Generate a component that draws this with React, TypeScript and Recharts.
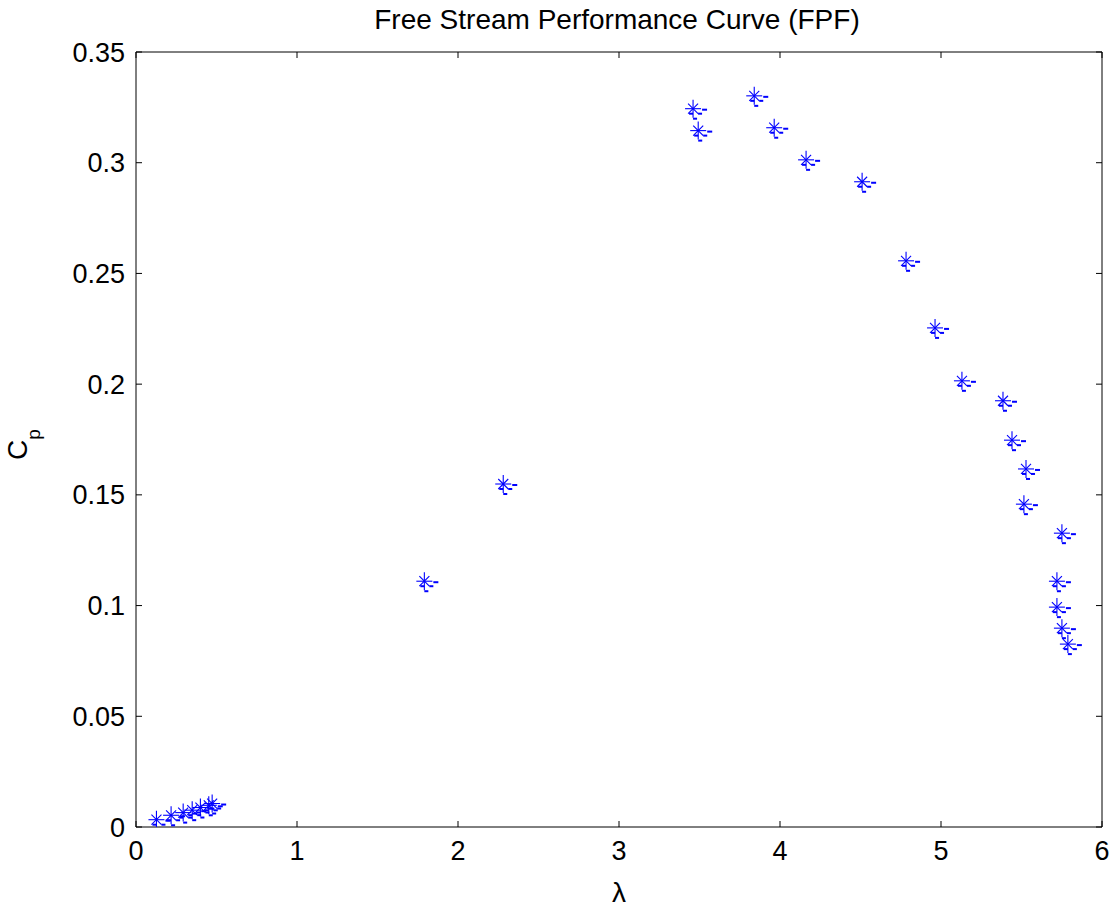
import { ScatterChart, Scatter, XAxis, YAxis } from "recharts";

// tip speed ratio (lambda) and power coefficient (Cp)
const lambda = [
  0.127, 0.218, 0.293, 0.349, 0.4, 0.452, 0.473,
  1.791, 2.281,
  3.46, 3.492, 3.84, 3.964, 4.162, 4.51, 4.783, 4.963, 5.13,
  5.385, 5.441, 5.528, 5.515, 5.751, 5.72, 5.72, 5.751, 5.788,
];
const cp = [
  0.0033, 0.0053, 0.0065, 0.0076, 0.0088, 0.0098, 0.0106,
  0.111, 0.1549,
  0.3244, 0.3145, 0.3302, 0.3158, 0.3013, 0.2914, 0.2557, 0.2254, 0.2015,
  0.1925, 0.1747, 0.1617, 0.1458, 0.1327, 0.111, 0.0993, 0.0898, 0.0826,
];
const xTicks = [0, 1, 2, 3, 4, 5, 6];
const yTicks = [0, 0.05, 0.1, 0.15, 0.2, 0.25, 0.3, 0.35];

const points = lambda.map((l, i) => ({ l, cp: cp[i] }));

const FONT = "'Liberation Sans', Arial, sans-serif";
const BLUE = "#0000ff";

function Star(props: { cx?: number; cy?: number }) {
  const { cx, cy } = props;
  if (cx == null || cy == null) return null;
  return (
    <g>
      <g stroke={BLUE} strokeWidth={1.1} fill="none">
        <line x1={cx - 8} y1={cy} x2={cx + 8} y2={cy} />
        <line x1={cx} y1={cy - 9} x2={cx} y2={cy + 9} />
        <line x1={cx - 5} y1={cy - 5} x2={cx + 5} y2={cy + 5} />
        <line x1={cx - 5} y1={cy + 5} x2={cx + 5} y2={cy - 5} />
      </g>
      {/* the little dash bits MATLAB left next to each marker */}
      <g fill={BLUE}>
        <rect x={cx + 9} y={cy} width={5} height={2} />
        <rect x={cx + 5} y={cy + 4} width={4} height={2} />
        <rect x={cx - 4} y={cy + 4} width={4} height={2} />
        <rect x={cx} y={cy + 9} width={4} height={2} />
      </g>
    </g>
  );
}

function CpLabel(props: any) {
  const vb = props.viewBox || {};
  const x = 27;
  const y = vb.y + vb.height / 2 + 5;
  return (
    <text
      transform={`rotate(-90, ${x}, ${y})`}
      x={x}
      y={y}
      textAnchor="middle"
      fontFamily={FONT}
      fontSize={28}
      fill="#000"
    >
      C
      <tspan fontSize={19} dy={13}>
        p
      </tspan>
    </text>
  );
}

export default function App() {
  const tickStyle = { fill: "#000", fontSize: 27, fontFamily: FONT };
  return (
    <div
      style={{
        position: "absolute",
        left: 0,
        top: 0,
        width: 1112,
        height: 907,
        background: "#fff",
      }}
    >
      <div
        style={{
          position: "absolute",
          left: 0,
          top: 4,
          width: 1234,
          textAlign: "center",
          fontFamily: FONT,
          fontSize: 28,
          color: "#000",
        }}
      >
        Free Stream Performance Curve (FPF)
      </div>
      <ScatterChart
        width={1112}
        height={907}
        margin={{ top: 0, right: 0, bottom: 0, left: 0 }}
        style={{ position: "absolute", left: 0, top: 0 }}
      >
        <XAxis
          dataKey="l"
          type="number"
          domain={[0, 6]}
          allowDataOverflow
          ticks={xTicks}
          height={80}
          tick={tickStyle}
          tickSize={-6}
          tickMargin={20}
          axisLine={{ stroke: "#000" }}
          tickLine={{ stroke: "#000" }}
          label={{
            value: "λ",
            position: "insideBottom",
            offset: 5,
            fill: "#000",
            fontSize: 28,
            fontFamily: FONT,
          }}
        />
        <YAxis
          dataKey="cp"
          type="number"
          domain={[0, 0.35]}
          allowDataOverflow
          ticks={yTicks}
          width={136}
          tick={tickStyle}
          tickSize={-6}
          tickMargin={17}
          axisLine={{ stroke: "#000" }}
          tickLine={{ stroke: "#000" }}
          label={<CpLabel />}
        />
        <XAxis
          xAxisId="top"
          orientation="top"
          dataKey="l"
          type="number"
          domain={[0, 6]}
          allowDataOverflow
          ticks={xTicks}
          height={52}
          tickFormatter={() => ""}
          tickSize={-6}
          axisLine={{ stroke: "#000" }}
          tickLine={{ stroke: "#000" }}
        />
        <YAxis
          yAxisId="right"
          orientation="right"
          dataKey="cp"
          type="number"
          domain={[0, 0.35]}
          allowDataOverflow
          ticks={yTicks}
          width={10}
          tickFormatter={() => ""}
          tickSize={-6}
          axisLine={{ stroke: "#000" }}
          tickLine={{ stroke: "#000" }}
        />
        <Scatter
          data={points}
          xAxisId="top"
          yAxisId="right"
          shape={() => <g />}
          isAnimationActive={false}
        />
        <Scatter data={points} shape={<Star />} isAnimationActive={false} />
      </ScatterChart>
    </div>
  );
}
